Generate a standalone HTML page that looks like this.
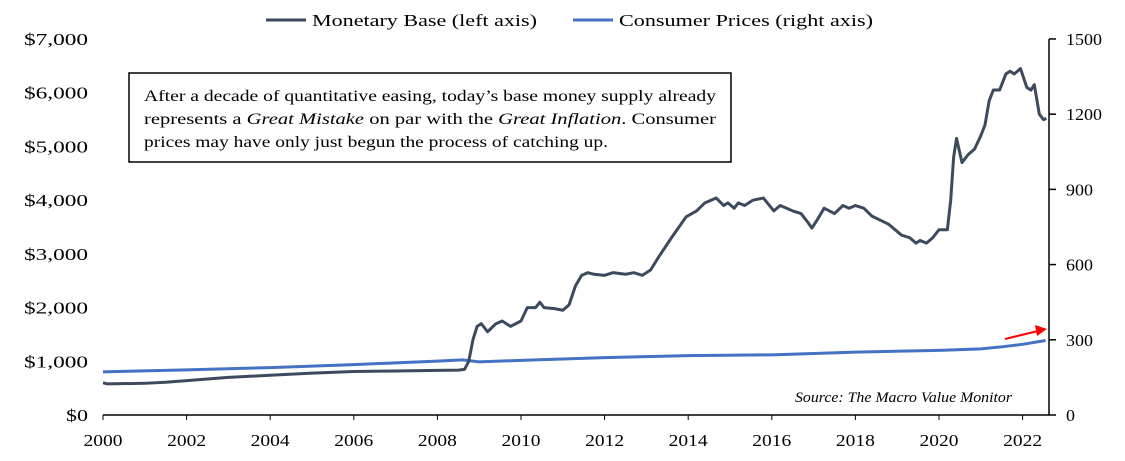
<!DOCTYPE html>
<html><head><meta charset="utf-8"><style>
body{margin:0;background:#fff;width:1125px;height:456px;overflow:hidden}
svg{font-family:"Liberation Serif",serif}
</style></head><body>
<svg width="1125" height="456">
<g id="g"></g>
</svg>
<script>
const baseYears=[2000,2000.1,2001,2001.5,2002,2003,2004,2005,2006,2007,2008,2008.5,2008.65,2008.75,2008.85,2008.95,2009.05,2009.2,2009.4,2009.55,2009.75,2010,2010.15,2010.35,2010.45,2010.55,2010.8,2011,2011.15,2011.3,2011.45,2011.6,2011.75,2012,2012.2,2012.5,2012.7,2012.9,2013.1,2013.3,2013.6,2013.95,2014.2,2014.4,2014.67,2014.85,2014.95,2015.1,2015.2,2015.35,2015.55,2015.8,2016.05,2016.2,2016.5,2016.7,2016.85,2016.96,2017.1,2017.25,2017.5,2017.7,2017.85,2018,2018.2,2018.4,2018.8,2019.1,2019.3,2019.45,2019.55,2019.7,2019.85,2020,2020.2,2020.28,2020.35,2020.42,2020.55,2020.7,2020.85,2021,2021.1,2021.2,2021.3,2021.45,2021.6,2021.7,2021.8,2021.95,2022.1,2022.2,2022.28,2022.4,2022.5,2022.57];
const baseVals=[600,580,590,610,640,700,740,780,810,820,830,835,850,1000,1400,1650,1700,1550,1700,1750,1650,1750,2000,2000,2100,2000,1980,1950,2050,2400,2600,2650,2620,2600,2650,2620,2650,2600,2700,2950,3300,3690,3800,3950,4040,3900,3950,3850,3950,3900,4000,4040,3800,3900,3800,3750,3600,3480,3650,3850,3750,3900,3850,3900,3850,3700,3550,3350,3300,3200,3250,3200,3300,3450,3450,4000,4800,5150,4700,4850,4950,5200,5400,5850,6050,6050,6350,6400,6350,6450,6100,6050,6150,5600,5500,5520];
const cpiYears=[2000,2002,2004,2006,2008,2008.6,2009,2010,2012,2014,2016,2018,2020,2021,2021.5,2022,2022.55];
const cpiVals=[172,180,189,201,215,220,212,218,229,237,240,251,258,264,272,282,297];
const xTicks=[2000,2002,2004,2006,2008,2010,2012,2014,2016,2018,2020,2022];
const leftTicks=[0,1000,2000,3000,4000,5000,6000,7000];
const rightTicks=[0,300,600,900,1200,1500];
const X=y=>103+(y-2000)*41.8, YL=v=>415-v*0.05371, YR=v=>415-v*0.2507;
const g=document.getElementById('g');let h='';
h+='<line x1="103" y1="415" x2="1049" y2="415" stroke="#000" stroke-width="1.5"/>';
h+='<line x1="1049" y1="39" x2="1049" y2="415" stroke="#000" stroke-width="1.5"/>';
xTicks.forEach(t=>{h+=`<line x1="${X(t)}" y1="415" x2="${X(t)}" y2="420" stroke="#000"/><text x="${X(t)}" y="446" font-size="17" text-anchor="middle" textLength="39" lengthAdjust="spacingAndGlyphs">${t}</text>`});
leftTicks.forEach(t=>{const s='$'+t.toLocaleString('en-US');h+=`<text x="88" y="${YL(t)+6}" font-size="17" text-anchor="end" textLength="${s.length==2?22:64}" lengthAdjust="spacingAndGlyphs">${s}</text>`});
rightTicks.forEach(t=>{const s=String(t);h+=`<line x1="1049" y1="${YR(t)}" x2="1056" y2="${YR(t)}" stroke="#000" stroke-width="1.5"/><text x="1066" y="${YR(t)+6}" font-size="17" textLength="${s.length*9}" lengthAdjust="spacingAndGlyphs">${s}</text>`});
h+=`<polyline fill="none" stroke="#4472c4" stroke-width="3" points="${cpiYears.map((y,i)=>X(y)+','+YR(cpiVals[i])).join(' ')}"/>`;
h+=`<polyline fill="none" stroke="#3d4a5e" stroke-width="3" stroke-linejoin="round" points="${baseYears.map((y,i)=>X(y)+','+YL(baseVals[i])).join(' ')}"/>`;
g.innerHTML=h;
</script>
<svg width="1125" height="456" style="position:absolute;left:0;top:0" font-family="Liberation Serif">
<g>
<line x1="266" y1="20" x2="306" y2="20" stroke="#3d4a5e" stroke-width="3"/>
<text x="312" y="26" font-size="17" textLength="225" lengthAdjust="spacingAndGlyphs">Monetary Base (left axis)</text>
<line x1="573" y1="20" x2="613" y2="20" stroke="#4472c4" stroke-width="3"/>
<text x="619" y="26" font-size="17" textLength="254" lengthAdjust="spacingAndGlyphs">Consumer Prices (right axis)</text>
</g>
<rect x="129" y="73" width="602" height="89" fill="#fff" stroke="#000" stroke-width="1.5"/>
<g font-size="16">
<text x="144" y="101" textLength="572" lengthAdjust="spacingAndGlyphs">After a decade of quantitative easing, today’s base money supply already</text>
<text x="144" y="124" textLength="572" lengthAdjust="spacingAndGlyphs">represents a <tspan font-style="italic">Great Mistake</tspan> on par with the <tspan font-style="italic">Great Inflation</tspan>. Consumer</text>
<text x="144" y="147" textLength="464" lengthAdjust="spacingAndGlyphs">prices may have only just begun the process of catching up.</text>
</g>
<text x="795" y="402" font-size="15" font-style="italic" textLength="217" lengthAdjust="spacingAndGlyphs">Source: The Macro Value Monitor</text>
<g>
<line x1="1005" y1="339" x2="1038" y2="331" stroke="#f00" stroke-width="2"/>
<polygon points="1047,329 1035,325 1037,336" fill="#f00"/>
</g>
</svg>
</body></html>
